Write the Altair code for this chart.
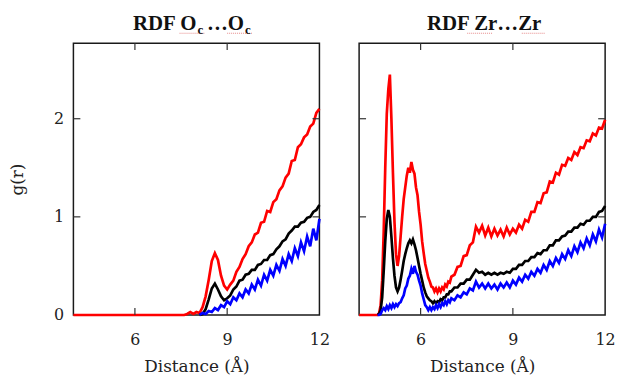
import altair as alt
import pandas as pd

# ---------------- data ----------------
X_DOMAIN = [4.0, 12.0]
Y_DOMAIN = [0.0, 2.77]
X_TICKS = [6, 9, 12]
Y_TICKS = [0, 1, 2]

# Left panel: O_c...O_c   (x grid 4.0, then 7.5 .. 12.0 step 0.1)
left_x = [4.0] + [round(7.5 + 0.1 * i, 2) for i in range(46)]
left_red = [0.00,
            0.00, 0.00, 0.01, 0.03, 0.01, 0.03, 0.02, 0.08, 0.19, 0.36,
            0.55, 0.63, 0.56, 0.40, 0.30, 0.26, 0.31, 0.35, 0.44, 0.49,
            0.57, 0.62, 0.70, 0.74, 0.82, 0.84, 0.94, 0.95, 1.06, 1.05,
            1.15, 1.18, 1.27, 1.31, 1.40, 1.44, 1.57, 1.58, 1.71, 1.74,
            1.81, 1.84, 1.92, 1.95, 2.06, 2.10]
left_black = [None] * 7 + [
            0.00, 0.01, 0.06, 0.16, 0.27, 0.32, 0.26, 0.19, 0.15, 0.17,
            0.20, 0.26, 0.29, 0.35, 0.36, 0.41, 0.42, 0.46, 0.46, 0.51,
            0.52, 0.56, 0.56, 0.61, 0.62, 0.67, 0.70, 0.75, 0.77, 0.83,
            0.86, 0.90, 0.90, 0.94, 0.95, 0.99, 1.00, 1.05, 1.07, 1.12]
left_blue = [None] * 7 + [
            0.00, 0.02, 0.01, 0.04, 0.03, 0.07, 0.05, 0.10, 0.08, 0.14,
            0.11, 0.18, 0.15, 0.22, 0.18, 0.26, 0.22, 0.31, 0.26, 0.36,
            0.30, 0.41, 0.35, 0.46, 0.40, 0.51, 0.45, 0.57, 0.50, 0.62,
            0.55, 0.68, 0.60, 0.74, 0.65, 0.80, 0.70, 0.88, 0.76, 0.98]

# Right panel: Zr...Zr   (x grid 4.0, 4.5, 4.60..7.00 step 0.05, 7.1..12.0 step 0.1)
right_x = ([4.0, 4.5]
           + [round(4.6 + 0.05 * i, 2) for i in range(49)]
           + [round(7.1 + 0.1 * i, 2) for i in range(50)])
right_red = [0.00, 0.00,
             0.00, 0.02, 0.10, 0.35, 0.85, 1.50, 2.05, 2.30, 2.45, 2.00,
             1.45, 0.95, 0.62, 0.50, 0.60, 0.80, 1.00, 1.18, 1.30, 1.42,
             1.50, 1.45, 1.56, 1.48, 1.44, 1.30, 1.22, 1.05, 0.92, 0.75,
             0.63, 0.52, 0.45, 0.38, 0.34, 0.29, 0.28, 0.24, 0.27, 0.23,
             0.27, 0.24, 0.28, 0.26, 0.31, 0.29, 0.34, 0.33, 0.39,
             0.41, 0.49, 0.50, 0.60, 0.61, 0.71, 0.74, 0.90, 0.84, 0.91,
             0.81, 0.89, 0.80, 0.88, 0.81, 0.87, 0.80, 0.89, 0.82, 0.88,
             0.84, 0.92, 0.88, 0.97, 0.95, 1.05, 1.05, 1.15, 1.14, 1.24,
             1.25, 1.36, 1.35, 1.45, 1.43, 1.53, 1.52, 1.60, 1.58, 1.66,
             1.63, 1.71, 1.70, 1.78, 1.77, 1.85, 1.83, 1.91, 1.90, 1.99]
right_black = [None, None,
             0.00, 0.01, 0.05, 0.18, 0.45, 0.75, 0.98, 1.07, 1.00, 0.80,
             0.58, 0.40, 0.28, 0.24, 0.28, 0.36, 0.45, 0.55, 0.62, 0.68,
             0.73, 0.76, 0.73, 0.77, 0.72, 0.66, 0.58, 0.50, 0.42, 0.35,
             0.28, 0.23, 0.19, 0.17, 0.15, 0.14, 0.12, 0.14, 0.12, 0.14,
             0.13, 0.16, 0.15, 0.18, 0.18, 0.21, 0.21, 0.24, 0.24,
             0.28, 0.28, 0.32, 0.32, 0.36, 0.36, 0.41, 0.46, 0.43, 0.44,
             0.41, 0.43, 0.41, 0.43, 0.41, 0.43, 0.42, 0.44, 0.43, 0.47,
             0.47, 0.51, 0.51, 0.55, 0.55, 0.59, 0.59, 0.63, 0.62, 0.66,
             0.66, 0.71, 0.71, 0.76, 0.76, 0.80, 0.81, 0.85, 0.85, 0.89,
             0.89, 0.93, 0.92, 0.96, 0.96, 1.00, 1.00, 1.05, 1.06, 1.11]
right_blue = [None, None,
             0.00, 0.00, 0.01, 0.05, 0.07, 0.05, 0.09, 0.06, 0.10, 0.07,
             0.11, 0.08, 0.11, 0.09, 0.12, 0.13, 0.17, 0.20, 0.27, 0.30,
             0.37, 0.40, 0.47, 0.42, 0.50, 0.44, 0.41, 0.35, 0.30, 0.22,
             0.16, 0.10, 0.08, 0.05, 0.08, 0.05, 0.08, 0.06, 0.10, 0.07,
             0.11, 0.08, 0.12, 0.10, 0.14, 0.11, 0.15, 0.13, 0.17,
             0.15, 0.20, 0.18, 0.23, 0.21, 0.27, 0.25, 0.34, 0.28, 0.32,
             0.27, 0.32, 0.27, 0.31, 0.26, 0.32, 0.28, 0.33, 0.28, 0.35,
             0.31, 0.38, 0.34, 0.41, 0.37, 0.44, 0.40, 0.47, 0.43, 0.51,
             0.46, 0.55, 0.50, 0.58, 0.53, 0.62, 0.57, 0.66, 0.60, 0.70,
             0.64, 0.74, 0.68, 0.78, 0.71, 0.82, 0.75, 0.87, 0.79, 0.93]

SERIES_COLORS = {"red": "#ff0000", "black": "#000000", "blue": "#0000ff"}

# ---------------- styling ----------------
W, H = 248, 274
TICK_LEN = 7
LABEL_FONT = "DejaVu Serif"
TITLE_FONT = "Liberation Serif"


def frame(x, series):
    assert len(x) == len(series), (len(x), len(series))
    rows = [{"x": xv, "y": yv} for xv, yv in zip(x, series) if yv is not None]
    return pd.DataFrame(rows)


def panel(x, red, black, blue, show_y, title_pieces, underlines):
    xscale = alt.Scale(domain=X_DOMAIN, nice=False, zero=False)
    yscale = alt.Scale(domain=Y_DOMAIN, nice=False)
    xaxis = alt.Axis(values=X_TICKS, title="Distance (Å)", labelPadding=17,
                     titlePadding=11, labelFlush=False, format="d")
    if show_y:
        yaxis = alt.Axis(values=Y_TICKS, title="g(r)", labelPadding=10,
                         titlePadding=27, format="d", labelFlush=False)
    else:
        yaxis = None

    layers = []
    for name, vals in (("red", red), ("black", black), ("blue", blue)):
        layers.append(
            alt.Chart(frame(x, vals)).mark_line(
                color=SERIES_COLORS[name], strokeWidth=2.7
            ).encode(
                x=alt.X("x:Q", scale=xscale, axis=xaxis),
                y=alt.Y("y:Q", scale=yscale, axis=yaxis),
            )
        )

    xt = pd.DataFrame({"x": [6, 9]})
    yt = pd.DataFrame({"y": [1, 2]})
    tick_style = dict(color="#333333", strokeWidth=1.2)
    layers.append(alt.Chart(xt).mark_rule(**tick_style).encode(
        x=alt.X("x:Q", scale=xscale, axis=xaxis),
        y=alt.value(H), y2=alt.value(H - TICK_LEN)))
    layers.append(alt.Chart(xt).mark_rule(**tick_style).encode(
        x=alt.X("x:Q", scale=xscale, axis=xaxis),
        y=alt.value(0), y2=alt.value(TICK_LEN)))
    layers.append(alt.Chart(yt).mark_rule(**tick_style).encode(
        y=alt.Y("y:Q", scale=yscale, axis=yaxis),
        x=alt.value(0), x2=alt.value(TICK_LEN)))
    layers.append(alt.Chart(yt).mark_rule(**tick_style).encode(
        y=alt.Y("y:Q", scale=yscale, axis=yaxis),
        x=alt.value(W - TICK_LEN), x2=alt.value(W)))

    # spell-check style dotted underlines seen in the reference title
    for (u0, u1) in underlines:
        layers.append(alt.Chart(pd.DataFrame({"a": [0]})).mark_rule(
            color="#e06a6a", strokeWidth=1, strokeDash=[1, 1], opacity=0.8
        ).encode(x=alt.value(u0), x2=alt.value(u1), y=alt.value(-10)))

    for (txt, px, py, size, align) in title_pieces:
        layers.append(alt.Chart(pd.DataFrame({"t": [txt]})).mark_text(
            font=TITLE_FONT, fontWeight="bold", fontSize=size, align=align,
            baseline="alphabetic", color="#111111"
        ).encode(x=alt.value(px), y=alt.value(py), text="t:N"))

    return alt.layer(*layers).properties(width=W, height=H)


left = panel(
    left_x, left_red, left_black, left_blue, True,
    [("RDF O", 124, -13, 21, "right"), ("c", 125, -9, 13, "left"),
     ("…O", 172, -13, 21, "right"), ("c", 173, -9, 13, "left")],
    [(107, 132), (155, 180)],
)
right = panel(
    right_x, right_red, right_black, right_blue, False,
    [("RDF Zr…Zr", 126, -13, 21, "center")],
    [(109, 134), (164, 188)],
)

chart = alt.hconcat(left, right, spacing=40, bounds="flush").properties(
    padding={"left": 8, "top": 11, "right": 5, "bottom": 0},
    background="white",
).configure_view(
    stroke="#1a1a1a", strokeWidth=1.5
).configure_axis(
    grid=False, domain=False, ticks=False, tickSize=0,
    labelFont=LABEL_FONT, labelFontSize=16, labelColor="#222222",
    titleFont=LABEL_FONT, titleFontSize=17, titleFontWeight="normal",
    titleColor="#222222",
)

chart.save("out.html", embed_options={"renderer": "svg", "actions": False})
